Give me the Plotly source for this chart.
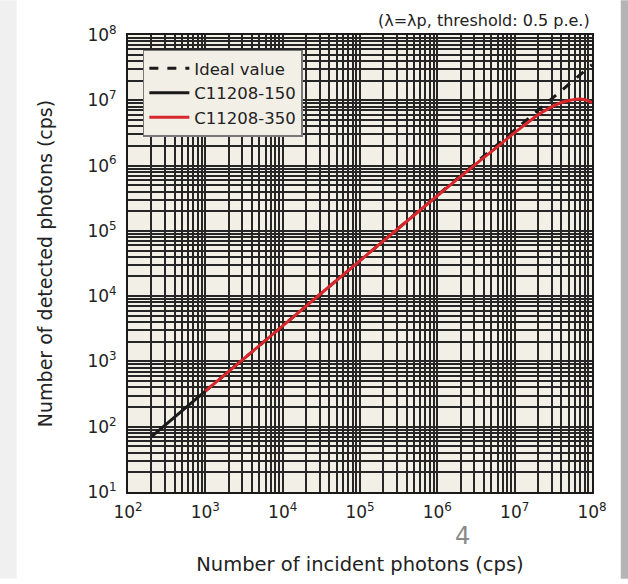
import plotly.graph_objects as go

# ---- data ----
ideal_x = [1e3, 1e8]
ideal_y = [350, 3.5e7]

c150_x = [205, 1000]
c150_y = [72, 350]

c350_x = [1000, 1e4, 1e5, 1e6, 3.6e6, 6.5e6, 1e7, 1.3e7, 1.6e7, 2.1e7, 2.7e7, 3.4e7,
          4.2e7, 5.2e7, 6.3e7, 7.5e7, 8.7e7, 1e8]
c350_y = [350, 3500, 35000, 3.45e5, 1.2e6, 2.1e6, 3.2e6, 4.05e6, 4.9e6, 6.2e6, 7.4e6, 8.5e6,
          9.4e6, 1.0e7, 1.04e7, 1.04e7, 1.0e7, 9.2e6]

x_tick_vals = [1e2, 1e3, 1e4, 1e5, 1e6, 1e7, 1e8]
x_tick_text = ["10<sup>2</sup>", "10<sup>3</sup>", "10<sup>4</sup>", "10<sup>5</sup>",
               "10<sup>6</sup>", "10<sup>7</sup>", "10<sup>8</sup>"]
y_tick_vals = [1e1, 1e2, 1e3, 1e4, 1e5, 1e6, 1e7, 1e8]
y_tick_text = ["10<sup>1</sup>", "10<sup>2</sup>", "10<sup>3</sup>", "10<sup>4</sup>",
               "10<sup>5</sup>", "10<sup>6</sup>", "10<sup>7</sup>", "10<sup>8</sup>"]

minor_x = [m * 10 ** e for e in range(2, 8) for m in range(2, 10)]
minor_y = [m * 10 ** e for e in range(1, 8) for m in range(2, 10)]

FONT = "DejaVu Sans"
GRID = "#262626"
GW = 1.5

fig = go.Figure()
fig.add_trace(go.Scatter(x=ideal_x, y=ideal_y, mode="lines", name="Ideal value",
                         line=dict(color="#1a1a1a", width=3, dash="dash")))
fig.add_trace(go.Scatter(x=c150_x, y=c150_y, mode="lines", name="C11208-150",
                         line=dict(color="#1a1a1a", width=3)))
fig.add_trace(go.Scatter(x=c350_x, y=c350_y, mode="lines", name="C11208-350",
                         line=dict(color="#d8262b", width=3, shape="spline", smoothing=0.8)))

axis_common = dict(
    type="log", showline=True, mirror=True, linecolor="#1a1a1a", linewidth=2,
    showgrid=True, gridcolor=GRID, gridwidth=GW, ticks="", zeroline=False,
    tickfont=dict(family=FONT, size=17, color="#222"),
)

fig.update_xaxes(
    **axis_common, range=[2, 8], tickmode="array", tickvals=x_tick_vals, ticktext=x_tick_text,
    ticklabelstandoff=4,
    minor=dict(tickmode="array", tickvals=minor_x, showgrid=True, gridcolor=GRID, gridwidth=GW, ticks=""),
    title=dict(text="Number of incident photons (cps)", font=dict(family=FONT, size=19.5, color="#222"),
               standoff=36),
)
fig.update_yaxes(
    **axis_common, range=[1, 8], tickmode="array", tickvals=y_tick_vals, ticktext=y_tick_text,
    ticklabelstandoff=6,
    minor=dict(tickmode="array", tickvals=minor_y, showgrid=True, gridcolor=GRID, gridwidth=GW, ticks=""),
    title=dict(text="Number of detected photons (cps)", font=dict(family=FONT, size=19, color="#222"),
               standoff=30),
)

fig.update_layout(
    width=628, height=584,
    margin=dict(l=128, r=36, t=35, b=87),
    paper_bgcolor="white", plot_bgcolor="#f2efe7",
    showlegend=True,
    legend=dict(x=0.032, y=0.968, xanchor="left", yanchor="top",
                bgcolor="#f2efe7", bordercolor="#777", borderwidth=1.5,
                font=dict(family=FONT, size=16.5, color="#222"),
                tracegroupgap=0, itemwidth=40),
    annotations=[
        dict(text="(λ=λp, threshold: 0.5 p.e.)", xref="paper", yref="paper", x=1.0, y=1.0,
             xanchor="right", yanchor="bottom", yshift=3, showarrow=False,
             font=dict(family=FONT, size=16, color="#222")),
        dict(text="4", xref="paper", yref="paper", x=0.72, y=0, xanchor="center", yanchor="top",
             yshift=-28, showarrow=False, font=dict(family=FONT, size=24, color="#8a8a8a")),
    ],
    shapes=[
        dict(type="rect", xref="paper", yref="paper", x0=-0.276, x1=-0.24, y0=-0.19, y1=1.076,
             fillcolor="#f0f0f0", line=dict(width=0), layer="below"),
        dict(type="rect", xref="paper", yref="paper", x0=1.062, x1=1.1, y0=-0.19, y1=1.076,
             fillcolor="#b4b4b4", line=dict(width=0), layer="below"),
    ],
)

fig.write_html("out.html")
